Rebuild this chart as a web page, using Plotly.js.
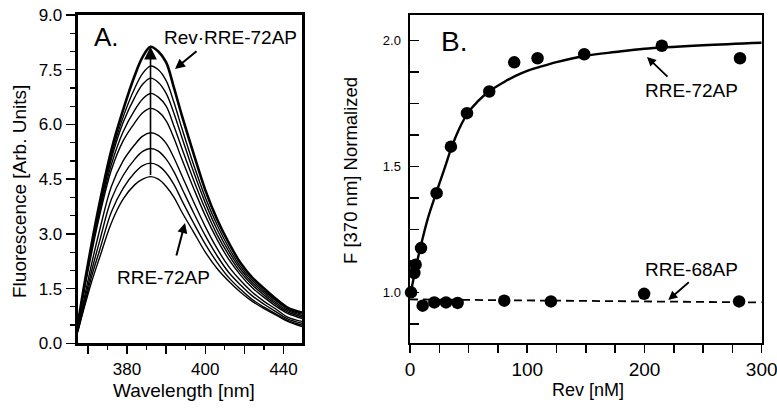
<!DOCTYPE html>
<html>
<head>
<meta charset="utf-8">
<script src="https://cdn.plot.ly/plotly-3.0.1.min.js"></script>
<style>html,body{margin:0;padding:0;background:#fff}#chart{width:777px;height:409px}</style>
</head>
<body>
<div id="chart"></div>
<script>
// ---- Panel A: emission spectra (wavelength grid, nm) ----
const wavelength = [367.4,369,371,373,376,379,382,384,386,388,390,392,394,397,400,403,406,409,412,415,418,421,424.7];
const specRev72 = [0.5,1.55,2.75,3.85,5.3,6.4,7.35,7.85,8.13,8.0,7.7,7.0,6.25,5.2,4.2,3.4,2.75,2.2,1.8,1.5,1.22,0.98,0.84];
const spec2 = [0.5,1.5,2.7,3.75,5.15,6.2,7.0,7.4,7.6,7.5,7.2,6.6,5.9,4.9,4.0,3.25,2.62,2.1,1.72,1.43,1.17,0.94,0.8];
const spec3 = [0.48,1.48,2.65,3.7,5.05,6.05,6.75,7.1,7.27,7.15,6.85,6.3,5.65,4.7,3.85,3.12,2.52,2.03,1.66,1.38,1.12,0.9,0.76];
const spec4 = [0.47,1.45,2.6,3.6,4.9,5.8,6.4,6.7,6.85,6.75,6.5,5.95,5.35,4.48,3.68,2.98,2.42,1.95,1.6,1.32,1.07,0.86,0.72];
const spec5 = [0.45,1.4,2.5,3.5,4.75,5.55,6.05,6.32,6.44,6.35,6.1,5.62,5.05,4.25,3.5,2.85,2.3,1.87,1.52,1.26,1.02,0.82,0.68];
const spec6 = [0.4,1.2,2.2,3.1,4.3,5.0,5.45,5.68,5.77,5.7,5.48,5.08,4.6,3.88,3.2,2.6,2.1,1.72,1.4,1.15,0.94,0.72,0.6];
const spec7 = [0.35,1.1,2.0,2.8,3.95,4.6,5.05,5.26,5.34,5.27,5.05,4.7,4.25,3.58,2.95,2.4,1.94,1.6,1.3,1.07,0.87,0.67,0.55];
const spec8 = [0.32,1.0,1.85,2.55,3.6,4.25,4.68,4.87,4.94,4.87,4.67,4.35,3.92,3.3,2.72,2.22,1.8,1.48,1.2,0.99,0.81,0.63,0.5];
const specRRE72 = [0.3,0.95,1.7,2.35,3.3,3.95,4.35,4.5,4.57,4.5,4.3,4.0,3.6,3.05,2.5,2.05,1.7,1.4,1.15,0.95,0.78,0.6,0.46];
const peakWavelength = 386;
const peakLow = 4.57;
const peakHigh = 8.13;
const xTickValsA = [370,380,390,400,410,420];
const xTickTextA = ["","380","","400","","440"];
const yTickValsA = [0,1.5,3,4.5,6,7.5,9];
const yTickTextA = ["0.0","1.5","3.0","4.5","6.0","7.5","9.0"];

// ---- Panel B: titration ----
const rev72 = [0.9,3.7,4.8,9.4,22.7,34.9,48.6,67.6,88.9,108.8,148.6,214.8,281.5];
const f72 = [1.0,1.077,1.11,1.176,1.394,1.579,1.712,1.798,1.914,1.93,1.946,1.98,1.93];
const rev68 = [10.8,20.7,30.7,40.6,80.4,120.2,199.7,280.7];
const f68 = [0.947,0.96,0.96,0.958,0.967,0.964,0.994,0.964];
const fitRev72 = [0,2,5,9,15,22,30,35,42,49,58,68,80,90,100,110,125,150,175,200,250,300];
const fitF72 = [0.99,1.03,1.10,1.18,1.29,1.39,1.50,1.57,1.65,1.71,1.76,1.80,1.835,1.86,1.88,1.895,1.915,1.94,1.955,1.968,1.982,1.992];
const fitRev68 = [0,300];
const fitF68 = [0.972,0.960];
const xTickValsB = [0,25,50,75,100,125,150,175,200,225,250,275,300];
const xTickTextB = ["0","","","","100","","","","200","","","","300"];
const yTickValsB = [0.875,1.0,1.125,1.25,1.375,1.5,1.625,1.75,1.875,2.0];
const yTickTextB = ["","1.0","","","","1.5","","","","2.0"];

const FONT = "Liberation Sans, Arial, Helvetica, sans-serif";
const spectra = [specRev72,spec2,spec3,spec4,spec5,spec6,spec7,spec8,specRRE72];
const traces = spectra.map((s,i)=>({
  x: wavelength, y: s, type:'scatter', mode:'lines', xaxis:'x', yaxis:'y',
  line:{color:'#000', width: i===0?2.6:1.4, shape:'spline', smoothing:1.0},
  hoverinfo:'skip', showlegend:false
}));
traces.push({x:fitRev72,y:fitF72,type:'scatter',mode:'lines',xaxis:'x2',yaxis:'y2',
  line:{color:'#000',width:2.4,shape:'spline'},showlegend:false});
traces.push({x:fitRev68,y:fitF68,type:'scatter',mode:'lines',xaxis:'x2',yaxis:'y2',
  line:{color:'#000',width:1.8,dash:'8px,5px'},showlegend:false});
traces.push({x:rev72,y:f72,type:'scatter',mode:'markers',xaxis:'x2',yaxis:'y2',cliponaxis:false,
  marker:{color:'#000',size:12.5},showlegend:false});
traces.push({x:rev68,y:f68,type:'scatter',mode:'markers',xaxis:'x2',yaxis:'y2',cliponaxis:false,
  marker:{color:'#000',size:12.5},showlegend:false});

const W=777,H=409;
const px=v=>v/W, py=v=>1-v/H;
function txt(x,y,text,size,extra){
  return Object.assign({xref:'paper',yref:'paper',x:px(x),y:py(y),xanchor:'center',yanchor:'middle',
    text:text,showarrow:false,font:{size:size,family:FONT,color:'#000'}},extra||{});
}
function arr(x,y,ax,ay,w){
  return {xref:'paper',yref:'paper',x:px(x),y:py(y),ax:ax,ay:ay,text:'',showarrow:true,
    arrowhead:2,arrowsize:1,arrowwidth:w,arrowcolor:'#000'};
}

const layout = {
  width:W, height:H, margin:{l:0,r:0,t:0,b:0}, paper_bgcolor:'#fff', plot_bgcolor:'#fff',
  font:{family:FONT,color:'#000'}, showlegend:false,
  xaxis:{domain:[px(77.7),px(302)], range:[367.4,424.7], showgrid:false, zeroline:false,
    showline:true, linecolor:'#000', linewidth:3, mirror:true,
    tickmode:'array', tickvals:xTickValsA, ticktext:xTickTextA, ticks:'outside', ticklen:8, tickwidth:1.5, tickcolor:'#000',
    minor:{tickmode:'linear', tick0:365, dtick:5, ticks:'outside', ticklen:4, tickwidth:1.2, tickcolor:'#000'},
    tickfont:{size:17,family:FONT}},
  yaxis:{domain:[py(343.3),py(15)], range:[0,9], showgrid:false, zeroline:false,
    showline:true, linecolor:'#000', linewidth:3, mirror:true,
    tickmode:'array', tickvals:yTickValsA, ticktext:yTickTextA, ticks:'outside', ticklen:9, tickwidth:1.5, tickcolor:'#000',
    minor:{tickmode:'linear', tick0:0, dtick:0.5, ticks:'outside', ticklen:5, tickwidth:1.2, tickcolor:'#000'},
    tickfont:{size:17,family:FONT}},
  xaxis2:{domain:[px(410),px(761.7)], range:[0,300], anchor:'y2', showgrid:false, zeroline:false,
    showline:true, linecolor:'#000', linewidth:2.5, mirror:true,
    tickmode:'array', tickvals:xTickValsB, ticktext:xTickTextB, ticks:'outside', ticklen:8, tickwidth:1.5, tickcolor:'#000',
    ticklabeloverflow:'allow', tickfont:{size:19,family:FONT}},
  yaxis2:{domain:[py(342.7),py(15)], range:[0.80,2.102], anchor:'x2', showgrid:false, zeroline:false,
    showline:true, linecolor:'#000', linewidth:2.5, mirror:true,
    tickmode:'array', tickvals:yTickValsB, ticktext:yTickTextB, ticks:'inside', ticklen:9, tickwidth:1.5, tickcolor:'#000',
    ticklabelstandoff:4, tickfont:{size:13,family:FONT}},
  annotations:[
    txt(20,192,'Fluorescence [Arb. Units]',19,{textangle:-90}),
    txt(184,390,'Wavelength [nm]',19),
    txt(350,171,'F [370 nm] Normalized',18.5,{textangle:-90}),
    txt(588,390,'Rev [nM]',18),
    txt(91.7,37.3,'A.',26,{xanchor:'left'}),
    txt(439.3,41.7,'B.',28,{xanchor:'left'}),
    {xref:'x',yref:'y',axref:'x',ayref:'y',x:peakWavelength,y:peakHigh,ax:peakWavelength,ay:peakLow,text:'',
      showarrow:true,arrowhead:2,arrowsize:1.6,arrowwidth:1.6,arrowcolor:'#000',standoff:0,startstandoff:0},
    txt(230,37,'Rev·RRE-72AP',19),
    arr(175,69,23,-19,2),
    txt(163,277,'RRE-72AP',19),
    arr(185,223,-9,34,2),
    txt(691.7,90.8,'RRE-72AP',19),
    arr(647,57,22,21,1.8),
    txt(691.7,269.3,'RRE-68AP',19),
    arr(668.3,300,22,-19,1.8)
  ]
};
Plotly.newPlot('chart', traces, layout, {staticPlot:true, displayModeBar:false});
</script>
</body>
</html>
